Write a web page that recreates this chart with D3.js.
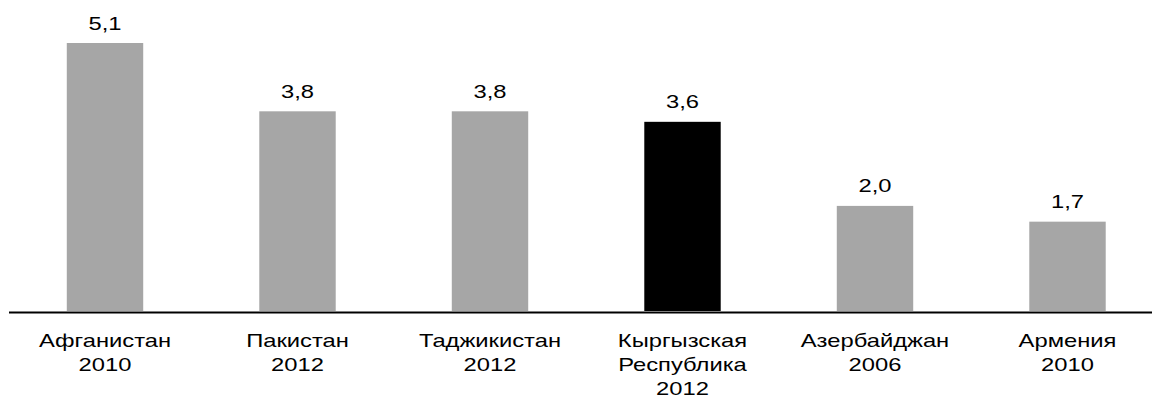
<!DOCTYPE html>
<html>
<head>
<meta charset="utf-8">
<script src="https://cdn.jsdelivr.net/npm/d3@7"></script>
<style>
  html, body { margin: 0; padding: 0; background: #fff; }
  svg { display: block; }
  text { font-family: "Liberation Sans", Arial, sans-serif; fill: #000; }
</style>
</head>
<body>
<svg id="chart" width="1153" height="399"></svg>
<script>
// Country / survey-year labels (one line per array entry)
const categories = [
  ["Афганистан", "2010"],
  ["Пакистан", "2012"],
  ["Таджикистан", "2012"],
  ["Кыргызская", "Республика", "2012"],
  ["Азербайджан", "2006"],
  ["Армения", "2010"]
];
const values = [5.1, 3.8, 3.8, 3.6, 2.0, 1.7];
const valueLabels = ["5,1", "3,8", "3,8", "3,6", "2,0", "1,7"];
const highlighted = [false, false, false, true, false, false];

const svg = d3.select("#chart");
const baseY = 311;
const fontSize = 19;
const stretch = 1.25;

const x = d3.scaleBand()
  .domain(d3.range(categories.length))
  .range([8.75, 1163.75])
  .paddingInner(0.603)
  .paddingOuter(0.3015);

const y = d3.scaleLinear()
  .domain([0, 5.1])
  .range([baseY, 43]);

// Bars
svg.append("g")
  .selectAll("rect")
  .data(values)
  .join("rect")
  .attr("x", (d, i) => x(i))
  .attr("y", d => y(d))
  .attr("width", x.bandwidth())
  .attr("height", d => baseY - y(d))
  .attr("fill", (d, i) => highlighted[i] ? "#000000" : "#a6a6a6");

// Baseline
svg.append("line")
  .attr("x1", 9).attr("x2", 1152)
  .attr("y1", baseY + 1.5).attr("y2", baseY + 1.5)
  .attr("stroke", "#000").attr("stroke-width", 2);

// Value labels above bars
svg.append("g")
  .selectAll("text")
  .data(values)
  .join("text")
  .attr("transform", (d, i) =>
    `translate(${x(i) + x.bandwidth() / 2},${y(d) - 13.5}) scale(${stretch},1)`)
  .attr("text-anchor", "middle")
  .attr("font-size", fontSize)
  .text((d, i) => valueLabels[i]);

// Category labels below the axis
const cat = svg.append("g")
  .selectAll("g")
  .data(categories)
  .join("g")
  .attr("transform", (d, i) =>
    `translate(${x(i) + x.bandwidth() / 2},${baseY + 35.5}) scale(${stretch},1)`);

cat.selectAll("text")
  .data(d => d)
  .join("text")
  .attr("y", (d, j) => j * 24.5)
  .attr("text-anchor", "middle")
  .attr("font-size", fontSize)
  .text(d => d);
</script>
</body>
</html>
